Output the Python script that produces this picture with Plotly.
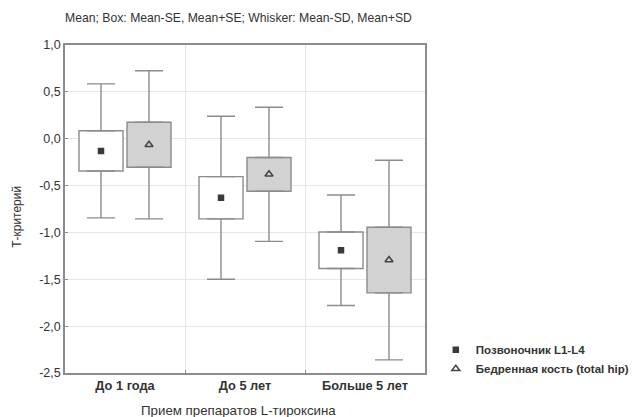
import plotly.graph_objects as go

categories = ["До 1 года", "До 5 лет", "Больше 5 лет"]
series_names = ["Позвоночник L1-L4", "Бедренная кость (total hip)"]

# Series 1: Позвоночник L1-L4
s1_mean = [-0.13, -0.63, -1.19]
s1_se = [0.215, 0.225, 0.195]
s1_sd = [0.715, 0.87, 0.59]

# Series 2: Бедренная кость (total hip)
s2_mean = [-0.065, -0.38, -1.295]
s2_se = [0.24, 0.18, 0.35]
s2_sd = [0.79, 0.715, 1.065]

y_ticks = [1.0, 0.5, 0.0, -0.5, -1.0, -1.5, -2.0, -2.5]
y_tick_labels = ["1,0", "0,5", "0,0", "-0,5", "-1,0", "-1,5", "-2,0", "-2,5"]

offset = 0.2
box_w = 0.367
line_col = "#8c8c8c"
text_col = "#333333"
lw = 1.4

# the page body has an 8px margin, so the figure is sized to fill the rest
W, H = 635, 409

fig = go.Figure()
marker_traces = []

def add_series(means, ses, sds, dx, fill, name, symbol, msize, mcolor, mline):
    n = len(categories)
    xs = [i + dx for i in range(n)]
    q1 = [m - s for m, s in zip(means, ses)]
    q3 = [m + s for m, s in zip(means, ses)]
    ext = [d - s for d, s in zip(sds, ses)]
    # whiskers (upper and lower) as one-sided error bars
    fig.add_trace(go.Scatter(
        x=xs, y=q3, mode="markers", marker=dict(size=0.1, opacity=0),
        error_y=dict(type="data", symmetric=False, array=ext, arrayminus=[0] * n,
                     width=14, thickness=lw, color=line_col),
        showlegend=False, hoverinfo="skip"))
    fig.add_trace(go.Scatter(
        x=xs, y=q1, mode="markers", marker=dict(size=0.1, opacity=0),
        error_y=dict(type="data", symmetric=False, array=[0] * n, arrayminus=ext,
                     width=14, thickness=lw, color=line_col),
        showlegend=False, hoverinfo="skip"))
    # boxes: mean ± SE
    fig.add_trace(go.Bar(
        x=xs, y=[2 * s for s in ses], base=q1, width=box_w,
        marker=dict(color=fill, line=dict(color=line_col, width=lw)),
        showlegend=False, hoverinfo="skip"))
    marker_traces.append(go.Scatter(
        x=xs, y=means, mode="markers", name=name,
        marker=dict(symbol=symbol, size=msize, color=mcolor,
                    line=dict(color=mline, width=1.5))))

add_series(s1_mean, s1_se, s1_sd, -offset, "white", series_names[0],
           "square", 5, "#3a3a3a", "#3a3a3a")
add_series(s2_mean, s2_se, s2_sd, offset, "#d2d2d2", series_names[1],
           "triangle-up-open", 7, "#444444", "#444444")
for t in marker_traces:
    fig.add_trace(t)

fig.update_layout(
    width=W, height=H,
    margin=dict(l=57, r=218, t=37, b=44, autoexpand=False),
    paper_bgcolor="white", plot_bgcolor="white",
    barmode="overlay",
    font=dict(family="Liberation Sans, Arial, sans-serif", size=12, color=text_col),
    title=dict(text="Mean; Box: Mean-SE, Mean+SE; Whisker: Mean-SD, Mean+SD",
               x=230.5/W, xref="container", xanchor="center",
               y=1 - 10/H, yref="container", yanchor="middle",
               font=dict(size=12.2, color=text_col)),
    legend=dict(x=1.03, y=0.115, xanchor="left", yanchor="top",
                font=dict(size=11.5, color=text_col, weight="bold"),
                itemwidth=30, tracegroupgap=0, bgcolor="rgba(0,0,0,0)"),
    showlegend=True,
    annotations=[
        dict(text="Т-критерий", textangle=-90, xref="paper", yref="paper",
             x=-48/360, y=0.476, xanchor="center", yanchor="middle",
             showarrow=False, font=dict(size=12, color=text_col)),
        dict(text="Прием препаратов L-тироксина", xref="paper", yref="paper",
             x=(238 - 65) / 360, y=-37/328, xanchor="center", yanchor="middle",
             showarrow=False, font=dict(size=13.3, color=text_col)),
    ],
)

fig.update_xaxes(
    range=[-0.5, 2.5], tickvals=list(range(len(categories))), ticktext=categories,
    showgrid=False, zeroline=False, ticks="", automargin=False,
    showline=True, mirror=True, linecolor=line_col, linewidth=1.5,
    tickfont=dict(size=12.8, color=text_col, weight="bold"),
    minor=dict(tickvals=[0.5, 1.5], showgrid=True, gridcolor="#e6e6e6",
               gridwidth=1, ticks="inside", ticklen=3, tickcolor=line_col),
)
fig.update_yaxes(
    range=[-2.5, 1.0], tickvals=y_ticks, ticktext=y_tick_labels,
    showgrid=True, gridcolor="#e6e6e6", gridwidth=1, zeroline=False,
    ticks="inside", ticklen=3, tickcolor=line_col, automargin=False,
    showline=True, mirror=True, linecolor=line_col, linewidth=1.5,
    tickfont=dict(size=12.5, color=text_col),
)

fig.write_html("out.html")
